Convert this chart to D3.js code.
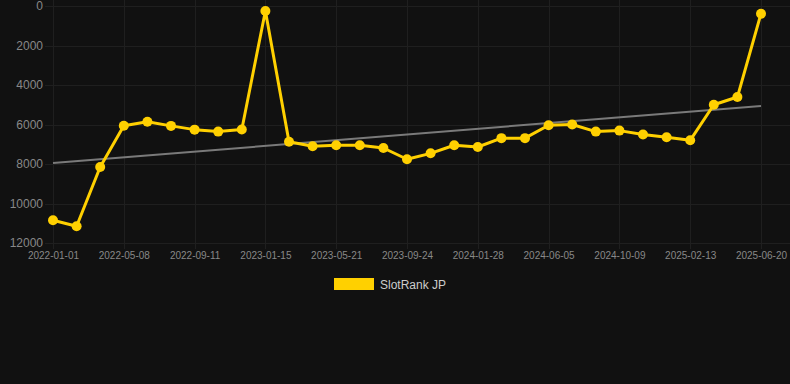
<!DOCTYPE html>
<html>
<head>
<meta charset="utf-8">
<script src="https://cdn.jsdelivr.net/npm/d3@7"></script>
<style>
  html, body { margin: 0; padding: 0; background: #111111; }
  svg { display: block; font-family: "Liberation Sans", Arial, sans-serif; }
</style>
</head>
<body>
<svg id="chart" width="790" height="384"></svg>
<script>
// ---- data ----
const tickLabels = ["2022-01-01","2022-05-08","2022-09-11","2023-01-15","2023-05-21","2023-09-24","2024-01-28","2024-06-05","2024-10-09","2025-02-13","2025-06-20"];
const rankValues = [10850, 11150, 8150, 6060, 5860, 6070, 6260, 6360, 6250, 250,
                    6870, 7100, 7050, 7050, 7190, 7760, 7460, 7050, 7140, 6690,
                    6690, 6040, 6000, 6360, 6310, 6510, 6650, 6800, 5000, 4610, 390];
const trendValues = [7950, 5060];
const yTicks = [0, 2000, 4000, 6000, 8000, 10000, 12000];
const seriesName = "SlotRank JP";

// ---- layout ----
const svg = d3.select("#chart");
const W = 790;
const pLeft = 53, pRight = 761, pTop = 6, pBottom = 243;
const n = rankValues.length;

const x = d3.scaleLinear().domain([0, n - 1]).range([pLeft, pRight]);
const y = d3.scaleLinear().domain([0, 12000]).range([pTop, pBottom]);
const tickIdx = tickLabels.map((d, i) => i * (n - 1) / (tickLabels.length - 1));

const gridColor = "#1f1f1f";
const textColor = "#888888";
const gold = "#FFD000";

// horizontal grid
svg.append("g").selectAll("line").data(yTicks).join("line")
  .attr("x1", pLeft - 8).attr("x2", W)
  .attr("y1", d => Math.round(y(d)) + 0.5).attr("y2", d => Math.round(y(d)) + 0.5)
  .attr("stroke", gridColor).attr("stroke-width", 1);

// vertical grid
svg.append("g").selectAll("line").data(tickIdx).join("line")
  .attr("x1", d => Math.round(x(d)) + 0.5).attr("x2", d => Math.round(x(d)) + 0.5)
  .attr("y1", 0).attr("y2", pBottom + 6)
  .attr("stroke", gridColor).attr("stroke-width", 1);

// y axis labels
const yAxis = d3.axisLeft(y).tickValues(yTicks).tickSize(0).tickPadding(10).tickFormat(d3.format("d"));
const gy = svg.append("g").attr("transform", `translate(${pLeft},0)`).call(yAxis);
gy.select(".domain").remove();
gy.selectAll("text").attr("fill", textColor).attr("font-size", 12)
  .attr("font-family", "'Liberation Sans', Arial, sans-serif");

// x axis labels
const xAxis = d3.axisBottom(x).tickValues(tickIdx).tickSize(0).tickPadding(9)
  .tickFormat((d, i) => tickLabels[i]);
const gx = svg.append("g").attr("transform", `translate(0,${pBottom})`).call(xAxis);
gx.select(".domain").remove();
gx.selectAll("text").attr("fill", textColor).attr("font-size", 10)
  .attr("font-family", "'Liberation Sans', Arial, sans-serif");

// trend line
svg.append("line")
  .attr("x1", x(0)).attr("x2", x(n - 1))
  .attr("y1", y(trendValues[0])).attr("y2", y(trendValues[1]))
  .attr("stroke", "#7a7a7a").attr("stroke-width", 2);

// series line
const line = d3.line().x((d, i) => x(i)).y(d => y(d));
svg.append("path").datum(rankValues)
  .attr("d", line).attr("fill", "none")
  .attr("stroke", gold).attr("stroke-width", 3).attr("stroke-linejoin", "round");

svg.append("g").selectAll("circle").data(rankValues).join("circle")
  .attr("cx", (d, i) => x(i)).attr("cy", d => y(d)).attr("r", 5)
  .attr("fill", gold);

// legend
const lg = svg.append("g");
lg.append("rect").attr("x", 334).attr("y", 278).attr("width", 40).attr("height", 12).attr("fill", gold);
lg.append("text").attr("x", 380).attr("y", 288.5).attr("fill", "#cccccc")
  .attr("font-size", 12).text(seriesName);
</script>
</body>
</html>
